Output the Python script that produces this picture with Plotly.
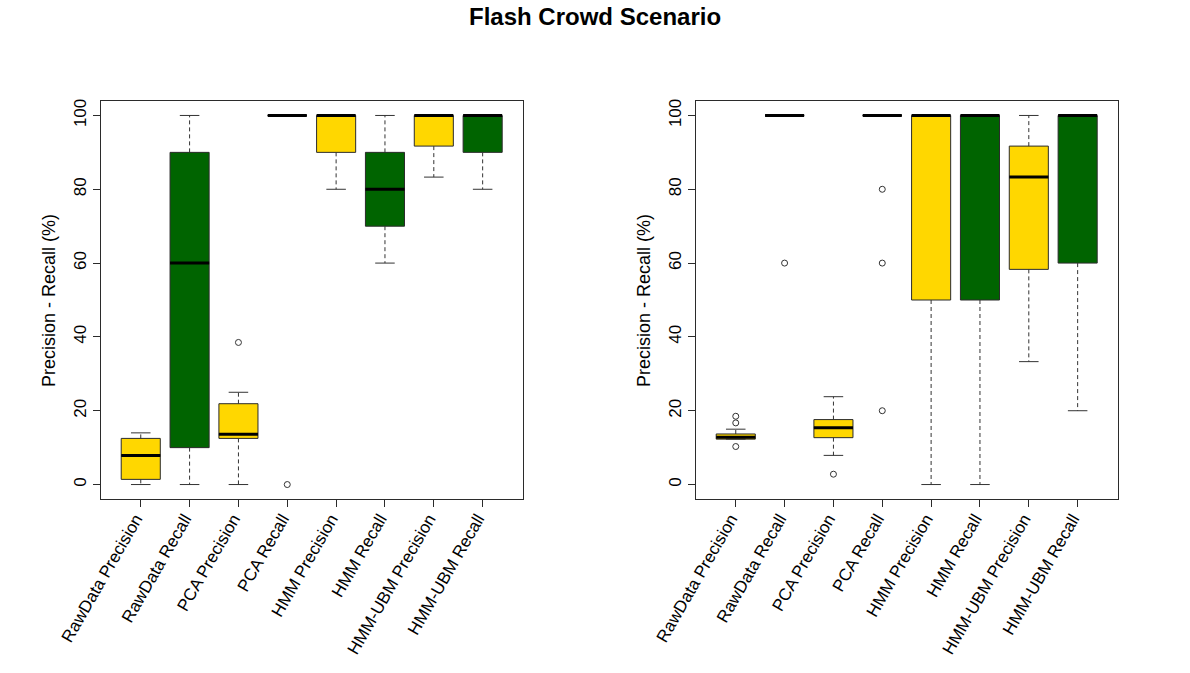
import plotly.graph_objects as go

# boxplot stats (values in %)
labels = ["RawData Precision", "RawData Recall", "PCA Precision", "PCA Recall",
          "HMM Precision", "HMM Recall", "HMM-UBM Precision", "HMM-UBM Recall"]
fills = ["gold", "darkgreen", "gold", "darkgreen", "gold", "darkgreen", "gold", "darkgreen"]

left_low = [0, 0, 0, 100, 80, 60, 83.3, 80]
left_q1 = [1.4, 10, 12.5, 100, 90, 70, 91.7, 90]
left_med = [7.9, 60, 13.6, 100, 100, 80, 100, 100]
left_q3 = [12.5, 90, 21.9, 100, 100, 90, 100, 100]
left_high = [14, 100, 25, 100, 100, 100, 100, 100]
left_out = [[], [], [38.5], [0], [], [], [], []]

right_low = [12.3, 100, 7.9, 100, 0, 0, 33.3, 20]
right_q1 = [12.3, 100, 12.7, 100, 50, 50, 58.3, 60]
right_med = [12.8, 100, 15.4, 100, 100, 100, 83.3, 100]
right_q3 = [13.7, 100, 17.6, 100, 100, 100, 91.7, 100]
right_high = [15, 100, 23.8, 100, 100, 100, 100, 100]
right_out = [[18.5, 16.7, 10.3], [60], [2.8], [80, 60, 20], [], [], [], []]

panels = [
    (left_low, left_q1, left_med, left_q3, left_high, left_out),
    (right_low, right_q1, right_med, right_q3, right_high, right_out),
]

FONT = "Liberation Sans"
BOXW = 0.8      # R default boxwex
CAPW = 0.4      # staplewex 0.5 of the box
EDGE = "#2b2b2b"
W, H = 1190, 673


def fx(px):
    # screen pixel -> paper x
    return px / W


def fy(px):
    # screen pixel -> paper y
    return 1 - px / H


fig = go.Figure()

for p, (low, q1, med, q3, high, out) in enumerate(panels):
    xa = "x" if p == 0 else "x2"
    ya = "y" if p == 0 else "y2"
    pos = list(range(1, len(labels) + 1))

    # the boxes themselves
    for i in range(len(labels)):
        fig.add_trace(go.Box(
            x=[pos[i]], q1=[q1[i]], median=[med[i]], q3=[q3[i]],
            lowerfence=[q1[i]], upperfence=[q3[i]],
            width=BOXW, whiskerwidth=0, boxpoints=False,
            fillcolor=fills[i], line=dict(color=EDGE, width=1),
            xaxis=xa, yaxis=ya, hoverinfo="skip",
        ))

    # dashed whiskers
    wx, wy = [], []
    for i in range(len(labels)):
        wx += [pos[i], pos[i], None, pos[i], pos[i], None]
        wy += [q3[i], high[i], None, q1[i], low[i], None]
    fig.add_trace(go.Scatter(x=wx, y=wy, mode="lines", xaxis=xa, yaxis=ya,
                             line=dict(color="#333333", width=1, dash="4px,3px"),
                             hoverinfo="skip"))

    # whisker caps
    cx, cy = [], []
    for i in range(len(labels)):
        cx += [pos[i] - CAPW / 2, pos[i] + CAPW / 2, None,
               pos[i] - CAPW / 2, pos[i] + CAPW / 2, None]
        cy += [high[i], high[i], None, low[i], low[i], None]
    fig.add_trace(go.Scatter(x=cx, y=cy, mode="lines", xaxis=xa, yaxis=ya,
                             line=dict(color="#333333", width=1), hoverinfo="skip"))

    # thick medians
    mx, my = [], []
    for i in range(len(labels)):
        mx += [pos[i] - BOXW / 2, pos[i] + BOXW / 2, None]
        my += [med[i], med[i], None]
    fig.add_trace(go.Scatter(x=mx, y=my, mode="lines", xaxis=xa, yaxis=ya,
                             line=dict(color="black", width=3), hoverinfo="skip"))

    # outliers
    ox, oy = [], []
    for i in range(len(labels)):
        for v in out[i]:
            ox.append(pos[i])
            oy.append(v)
    fig.add_trace(go.Scatter(x=ox, y=oy, mode="markers", xaxis=xa, yaxis=ya,
                             marker=dict(symbol="circle-open", size=6,
                                         color="#333333", line=dict(width=1)),
                             hoverinfo="skip"))

xcommon = dict(range=[0.18, 8.82], tickvals=list(range(1, 9)), ticktext=labels,
               tickangle=-60, ticks="outside", ticklen=7, tickcolor=EDGE,
               ticklabelstandoff=-5, ticklabelshift=-5,
               showline=True, linecolor=EDGE, linewidth=1, mirror=True,
               showgrid=False, zeroline=False, automargin=False,
               tickfont=dict(family=FONT, size=17, color="black"))
ycommon = dict(range=[-4, 104], tickvals=[0, 20, 40, 60, 80, 100],
               tickangle=-90, ticks="outside", ticklen=7, tickcolor=EDGE,
               showline=True, linecolor=EDGE, linewidth=1, mirror=True,
               showgrid=False, zeroline=False, automargin=False,
               tickfont=dict(family=FONT, size=17, color="black"))

fig.update_layout(
    width=W, height=H,
    margin=dict(l=0, r=0, t=0, b=0),
    paper_bgcolor="white", plot_bgcolor="white",
    showlegend=False,
    font=dict(family=FONT, color="black"),
    xaxis=dict(domain=[fx(100.7), fx(522.7)], anchor="y", **xcommon),
    yaxis=dict(domain=[fy(499.3), fy(100.7)], anchor="x", **ycommon),
    xaxis2=dict(domain=[fx(695.7), fx(1117.7)], anchor="y2", **xcommon),
    yaxis2=dict(domain=[fy(499.3), fy(100.7)], anchor="x2", **ycommon),
)

fig.add_annotation(text="<b>Flash Crowd Scenario</b>", xref="paper", yref="paper",
                   x=fx(595), y=fy(16), showarrow=False,
                   xanchor="center", yanchor="middle",
                   font=dict(family=FONT, size=24, color="black"))

for sx in [49, 644]:
    fig.add_annotation(text="Precision - Recall (%)", xref="paper", yref="paper",
                       x=fx(sx), y=fy(301), textangle=-90, showarrow=False,
                       xanchor="center", yanchor="middle",
                       font=dict(family=FONT, size=18, color="black"))

# drop the browser's default body margin so the figure sits at the page corner
fig.write_html("out.html", config={"displayModeBar": False},
               post_script="document.body.style.margin = '0';")
